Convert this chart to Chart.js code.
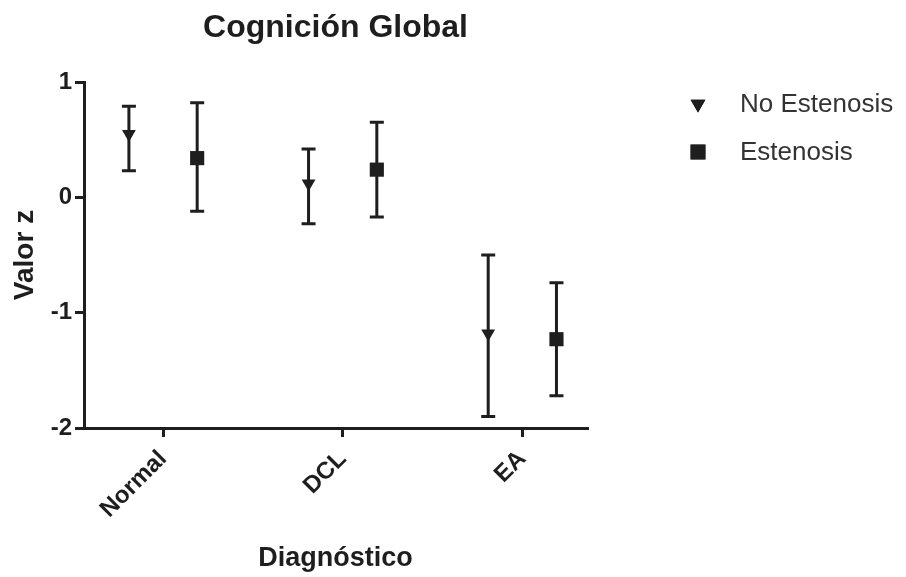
<!DOCTYPE html>
<html>
<head>
<meta charset="utf-8">
<title>Cognición Global</title>
<script src="https://cdn.jsdelivr.net/npm/chart.js@4"></script>
<style>
    body { margin: 0; background: #fff; }
    #wrap { width: 906px; height: 577px; }
</style>
</head>
<body>
<div id="wrap"><canvas id="chart" width="906" height="577"></canvas></div>
<script>
// Data
const categories = ['Normal', 'DCL', 'EA'];
const seriesNames = ['No Estenosis', 'Estenosis'];

const noEstMean = [0.55, 0.12, -1.18];
const noEstLow = [0.23, -0.23, -1.90];
const noEstHigh = [0.79, 0.42, -0.50];

const estMean = [0.34, 0.24, -1.23];
const estLow = [-0.12, -0.17, -1.72];
const estHigh = [0.82, 0.65, -0.74];

const yTicks = [-2, -1, 0, 1];

const font = '"Liberation Sans", Arial, Helvetica, sans-serif';
const ink = '#1e1e1e';

// Error bars drawn behind markers
const errorBars = {
    id: 'errorBars',
    beforeDatasetsDraw(chart) {
        const ctx = chart.ctx;
        const y = chart.scales.y;
        chart.data.datasets.forEach((ds, di) => {
            const meta = chart.getDatasetMeta(di);
            meta.data.forEach((pt, i) => {
                const top = y.getPixelForValue(ds.high[i]);
                const bot = y.getPixelForValue(ds.low[i]);
                ctx.save();
                ctx.strokeStyle = ink;
                ctx.lineWidth = 3;
                ctx.beginPath();
                ctx.moveTo(pt.x, top);
                ctx.lineTo(pt.x, bot);
                ctx.moveTo(pt.x - 7, top);
                ctx.lineTo(pt.x + 7, top);
                ctx.moveTo(pt.x - 7, bot);
                ctx.lineTo(pt.x + 7, bot);
                ctx.stroke();
                ctx.restore();
            });
        });
    }
};

// Legend on the right, drawn by hand
const sideLegend = {
    id: 'sideLegend',
    afterDraw(chart) {
        const ctx = chart.ctx;
        chart.data.datasets.forEach((ds, i) => {
            const cy = 104 + i * 48;
            Chart.helpers.drawPoint(ctx, {
                pointStyle: ds.pointStyle,
                rotation: ds.rotation || 0,
                radius: i === 0 ? 8.5 : 10.5,
                borderWidth: 0
            }, 698, cy);
            ctx.fillStyle = ink;
            ctx.fill();
            ctx.save();
            ctx.font = '26px ' + font;
            ctx.fillStyle = '#333';
            ctx.textBaseline = 'middle';
            ctx.fillText(ds.label, 740, cy + 1);
            ctx.restore();
        });
    }
};

const ctx = document.getElementById('chart').getContext('2d');
const chart = new Chart(ctx, {
    type: 'scatter',
    data: {
        datasets: [{
            label: seriesNames[0],
            data: noEstMean.map((v, i) => ({ x: i - 0.19, y: v })),
            low: noEstLow,
            high: noEstHigh,
            pointStyle: 'triangle',
            rotation: 180,
            pointRadius: 8,
            backgroundColor: ink,
            borderColor: ink,
            borderWidth: 0
        }, {
            label: seriesNames[1],
            data: estMean.map((v, i) => ({ x: i + 0.19, y: v })),
            low: estLow,
            high: estHigh,
            pointStyle: 'rect',
            pointRadius: 10,
            backgroundColor: ink,
            borderColor: ink,
            borderWidth: 0
        }]
    },
    options: {
        responsive: false,
        animation: false,
        layout: { padding: { left: 0, right: 319, top: 0, bottom: 0 } },
        plugins: {
            legend: { display: false },
            tooltip: { enabled: false },
            title: {
                display: true,
                text: 'Cognición Global',
                fullSize: false,
                color: ink,
                font: { family: font, size: 32, weight: 'bold' },
                padding: { top: 9, bottom: 34.6 }
            }
        },
        scales: {
            x: {
                type: 'linear',
                min: -0.44,
                max: 2.36,
                afterBuildTicks: s => { s.ticks = categories.map((c, i) => ({ value: i })); },
                afterFit: s => { s.height = 149; },
                border: { display: true, color: ink, width: 3 },
                grid: { display: true, drawOnChartArea: false, drawTicks: true, tickLength: 9, color: ink, lineWidth: 3 },
                ticks: {
                    callback: v => categories[v],
                    minRotation: 45,
                    maxRotation: 45,
                    padding: 8,
                    color: ink,
                    font: { family: font, size: 24, weight: 'bold' }
                },
                title: {
                    display: true,
                    text: 'Diagnóstico',
                    color: ink,
                    font: { family: font, size: 27, weight: 'bold' },
                    padding: { top: 0, bottom: 2 }
                }
            },
            y: {
                min: -2,
                max: 1,
                afterBuildTicks: s => { s.ticks = yTicks.map(v => ({ value: v })); },
                afterFit: s => { s.width = 84; },
                border: { display: true, color: ink, width: 3 },
                grid: { display: true, drawOnChartArea: false, drawTicks: true, tickLength: 9, color: ink, lineWidth: 3 },
                ticks: {
                    padding: 3,
                    color: ink,
                    font: { family: font, size: 24, weight: 'bold' }
                },
                title: {
                    display: true,
                    text: 'Valor z',
                    color: ink,
                    font: { family: font, size: 28, weight: 'bold' },
                    padding: { top: 8, bottom: 0 }
                }
            }
        }
    },
    plugins: [errorBars, sideLegend]
});
</script>
</body>
</html>
